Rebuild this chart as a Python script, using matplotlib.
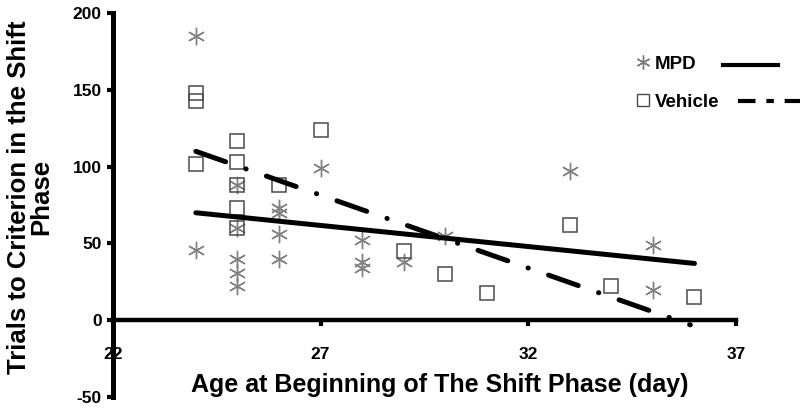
import matplotlib
matplotlib.use("Agg")
import matplotlib.pyplot as plt
from matplotlib.lines import Line2D
import numpy as np

plt.rcParams['font.family'] = ['Liberation Sans', 'DejaVu Sans']

# MPD (asterisks)
mpd_x = [24, 24, 25, 25, 25, 25, 25, 26, 26, 26, 26, 27, 28, 28, 28, 29, 30, 33, 35, 35]
mpd_y = [185, 46, 88, 60, 40, 31, 22, 73, 70, 56, 40, 99, 52, 38, 34, 38, 55, 97, 49, 20]
# Vehicle (squares)
veh_x = [24, 24, 24, 25, 25, 25, 25, 25, 26, 27, 29, 30, 31, 33, 34, 36]
veh_y = [148, 143, 102, 117, 103, 88, 73, 60, 88, 124, 45, 30, 18, 62, 22, 15]
# regression lines (endpoints as shown)
mpd_fit_x = [24, 36]
mpd_fit_y = [70, 37]
veh_fit_x = [24, 35.9]
veh_fit_y = [110, -3]

xticks = [22, 27, 32, 37]
yticks = [-50, 0, 50, 100, 150, 200]

fig = plt.figure(figsize=(8.0, 4.11), dpi=100)
ax = fig.add_axes([0.141, 0.034, 0.779, 0.934])

for s in ['top', 'right']:
    ax.spines[s].set_visible(False)
ax.spines['bottom'].set_position(('data', 0))
ax.spines['left'].set_linewidth(3.6)
ax.spines['bottom'].set_linewidth(3.2)

star = (6, 2, 0)
ax.plot(mpd_x, mpd_y, linestyle='none', marker=star, markersize=12.5,
        markeredgecolor='#808080', markeredgewidth=1.0, color='#808080', zorder=3)
ax.plot(veh_x, veh_y, linestyle='none', marker='s', markersize=10.5,
        markerfacecolor='none', markeredgecolor='#4a4a4a', markeredgewidth=1.1, zorder=3)

ax.plot(mpd_fit_x, mpd_fit_y, color='black', lw=3.6, solid_capstyle='round', zorder=4)
dashdot = (0, (6.3, 4.3, 0.05, 4.3))
ax.plot(veh_fit_x, veh_fit_y, color='black', lw=3.6, linestyle=dashdot,
        dash_capstyle='round', zorder=4)

ax.set_xlim(22, 37)
ax.set_ylim(-50, 200)
ax.set_xticks(xticks)
ax.set_yticks(yticks)
ax.set_xticklabels([str(v) for v in xticks])
ax.set_yticklabels([str(v) for v in yticks])
ax.tick_params(axis='y', direction='out', length=4, width=3, pad=4, labelsize=12.5)
ax.tick_params(axis='x', direction='out', length=4, width=3, pad=15, labelsize=12.5)
for lab in ax.get_xticklabels() + ax.get_yticklabels():
    lab.set_fontweight('bold')

ax.set_xlabel('Age at Beginning of The Shift Phase (day)', fontsize=18, fontweight='bold')
ax.xaxis.set_label_coords(0.525, 0.032)
ax.xaxis.label.set_verticalalignment('center')
ax.set_ylabel('Trials to Criterion in the Shift\nPhase', fontsize=18.5, fontweight='bold',
              linespacing=0.9)
ax.yaxis.set_label_coords(-0.133, 0.52)
ax.yaxis.label.set_verticalalignment('center')

# legend: marker + label, then line sample to the right
h_mark = [Line2D([], [], linestyle='none', marker=star, markersize=10,
                 markeredgecolor='#7a7a7a', color='#7a7a7a', markeredgewidth=1.0),
          Line2D([], [], linestyle='none', marker='s', markersize=8,
                 markerfacecolor='none', markeredgecolor='#4a4a4a', markeredgewidth=1.0)]
leg1 = fig.legend(h_mark, ['MPD', 'Vehicle'], loc='upper left', bbox_to_anchor=(0.776, 0.905),
                  frameon=False, handlelength=0.6, handletextpad=0.3, labelspacing=1.1,
                  prop={'size': 13.5, 'weight': 'bold'})
# legend line keys drawn in figure coordinates to the right of the labels
fig.add_artist(Line2D([0.904, 0.972], [0.842, 0.842], transform=fig.transFigure,
                      color='black', lw=3.0))
fig.add_artist(Line2D([0.922, 1.0], [0.754, 0.754], transform=fig.transFigure,
                      color='black', lw=3.0, linestyle=(0, (4.2, 2.6, 1.8, 2.6))))

fig.savefig('out.png', dpi=100, facecolor='white')
